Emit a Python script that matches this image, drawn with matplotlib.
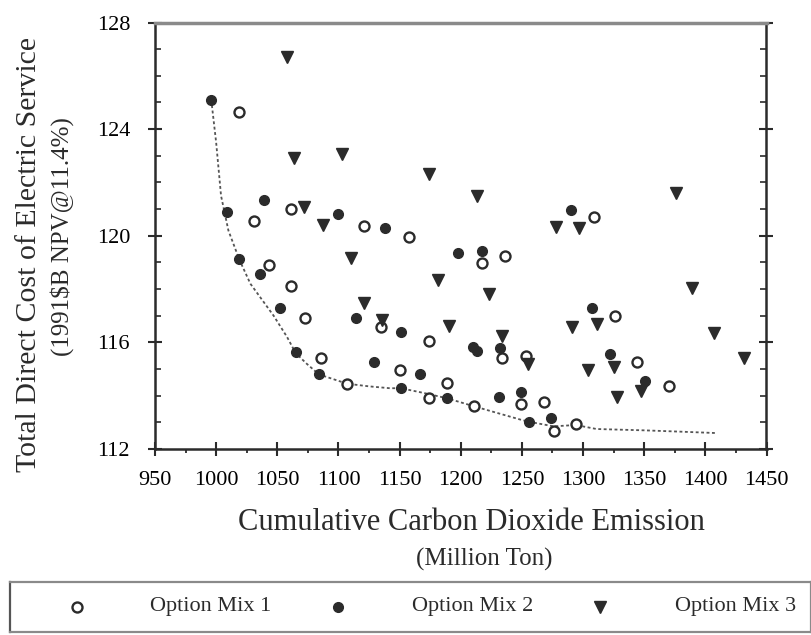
import matplotlib
matplotlib.use("Agg")
import matplotlib.pyplot as plt
from matplotlib.ticker import MultipleLocator

# --- datos ---
mix1_x = [1019, 1031, 1061, 1121, 1158, 1309, 1043, 1061, 1073, 1086, 1107,
          1217, 1236, 1135, 1174, 1234, 1253, 1150, 1189, 1174, 1211, 1249,
          1268, 1276, 1326, 1344, 1370, 1294]
mix1_y = [124.66, 120.57, 121.0, 120.37, 119.97, 120.7, 118.9, 118.13, 116.93,
          115.4, 114.44, 118.99, 119.24, 116.57, 116.06, 115.4, 115.49, 114.96,
          114.46, 113.92, 113.61, 113.69, 113.78, 112.69, 116.99, 115.28,
          114.36, 112.94]

mix2_x = [996, 1039, 1009, 1100, 1138, 1290, 1019, 1036, 1052, 1114, 1065,
          1084, 1198, 1217, 1151, 1210, 1213, 1232, 1129, 1167, 1151, 1189,
          1231, 1249, 1256, 1274, 1307, 1322, 1351]
mix2_y = [125.1, 121.34, 120.9, 120.8, 120.28, 120.97, 119.12, 118.55, 117.28,
          116.9, 115.63, 114.8, 119.34, 119.44, 116.4, 115.82, 115.69, 115.78,
          115.28, 114.8, 114.28, 113.92, 113.94, 114.15, 113.02, 113.17,
          117.28, 115.56, 114.56]

mix3_x = [1058, 1064, 1103, 1072, 1087, 1174, 1213, 1278, 1297, 1376, 1110,
          1181, 1223, 1121, 1136, 1190, 1234, 1255, 1389, 1291, 1311, 1407,
          1432, 1325, 1304, 1347, 1328]
mix3_y = [126.7, 122.9, 123.07, 121.09, 120.4, 122.3, 121.5, 120.34, 120.28,
          121.62, 119.16, 118.34, 117.82, 117.47, 116.84, 116.63, 116.24,
          115.2, 118.03, 116.59, 116.69, 116.34, 115.4, 115.09, 114.96,
          114.19, 113.96]

# frontera eficiente (linea punteada)
front_x = [996, 1000, 1004, 1010, 1019, 1028, 1047, 1058, 1065, 1074, 1084,
           1107, 1125, 1142, 1151, 1170, 1189, 1211, 1230, 1249, 1256, 1276,
           1294, 1311, 1350, 1380, 1408]
front_y = [125.1, 123.5, 121.5, 120.2, 119.1, 118.2, 117.0, 116.2, 115.6,
           115.2, 114.8, 114.45, 114.35, 114.28, 114.28, 114.1, 113.9, 113.6,
           113.35, 113.1, 113.02, 112.85, 112.9, 112.75, 112.7, 112.65, 112.6]

labels = ["Option Mix 1", "Option Mix 2", "Option Mix 3"]

INK = "#2b2b2b"
FONT = "Liberation Serif"
plt.rcParams.update({"font.family": FONT, "font.size": 16})

W, H = 812, 635
fig = plt.figure(figsize=(W / 100, H / 100), dpi=100)
fig.patch.set_facecolor("white")


def fx(px):
    return px / W


def fy(py):
    return 1 - py / H


ax = fig.add_axes([fx(155), fy(449), fx(766.5) - fx(155), fy(22.5) - fy(449)])

ax.plot(front_x, front_y, color="#555555", lw=1.3, ls=(0, (1.6, 1.4)), zorder=1)
styles = [
    dict(marker="o", ms=7.2, mfc="white", mec=INK, mew=1.7),
    dict(marker="o", ms=7.0, mfc=INK, mec=INK, mew=1.0),
    dict(marker="v", ms=8.5, mfc=INK, mec=INK, mew=1.0),
]
series = [(mix1_x, mix1_y), (mix2_x, mix2_y), (mix3_x, mix3_y)]
for (xs, ys), st in zip(series, styles):
    ax.plot(xs, ys, ls="none", zorder=3, **st)

ax.set_xlim(950, 1450)
ax.set_ylim(112, 128)
ax.xaxis.set_major_locator(MultipleLocator(50))
ax.xaxis.set_minor_locator(MultipleLocator(25))
ax.yaxis.set_major_locator(MultipleLocator(4))
ax.yaxis.set_minor_locator(MultipleLocator(1))

for s in ["left", "bottom", "right"]:
    ax.spines[s].set_color(INK)
    ax.spines[s].set_linewidth(1.8)
ax.spines["top"].set_color("#8a8a8a")
ax.spines["top"].set_linewidth(2.5)

ax.tick_params(axis="x", which="major", direction="inout", length=10,
               width=1.5, color=INK, pad=11, labelsize=16)
ax.tick_params(axis="x", which="minor", direction="out", length=3,
               width=1.3, color=INK)
ax.tick_params(axis="y", which="major", direction="inout", length=10,
               width=1.5, color=INK, pad=13, labelsize=16, right=True)
ax.tick_params(axis="y", which="minor", direction="in", length=4,
               width=1.2, color=INK, right=True)

# titulos de ejes
fig.text(fx(29), fy(255), "Total Direct Cost of Electric Service",
         rotation=90, ha="center", va="center", fontsize=21.5, color=INK)
fig.text(fx(62), fy(237), "(1991$B NPV@11.4%)", rotation=90,
         ha="center", va="center", fontsize=18, color=INK)
fig.text(fx(471), fy(522), "Cumulative Carbon Dioxide Emission",
         ha="center", va="center", fontsize=22, color=INK)
fig.text(fx(484), fy(559), "(Million Ton)", ha="center", va="center",
         fontsize=18, color=INK)

# leyenda en caja inferior
lg = fig.add_axes([fx(10), fy(632), fx(811) - fx(10), fy(582) - fy(632)])
lg.set_xlim(10, 811)
lg.set_ylim(0, 1)
lg.set_xticks([])
lg.set_yticks([])
for s in lg.spines.values():
    s.set_color("#8a8a8a")
    s.set_linewidth(1.6)
lg.spines["left"].set_color("#555555")
handle_px = [77, 338, 600]
text_px = [150, 412, 675]
for hx, tx, lab, st in zip(handle_px, text_px, labels, styles):
    lg.plot([hx], [0.5], ls="none", **st)
    lg.text(tx, 0.5, lab, ha="left", va="center", fontsize=16, color=INK)

fig.savefig("out.png", dpi=100)
